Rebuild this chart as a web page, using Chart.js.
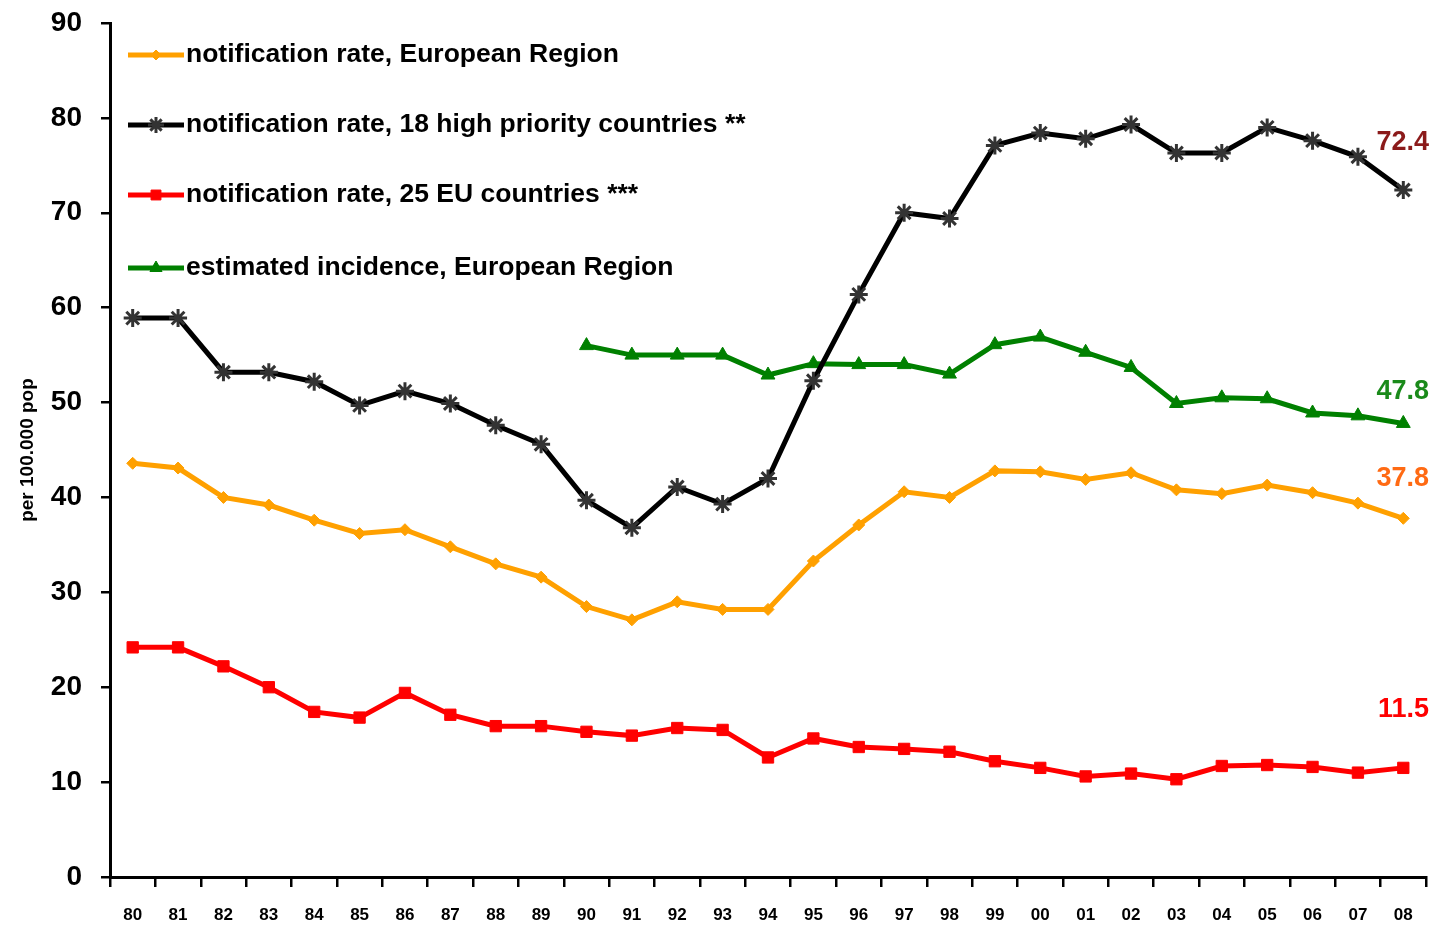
<!DOCTYPE html>
<html>
<head>
<meta charset="utf-8">
<script src="https://cdn.jsdelivr.net/npm/chart.js@4.4.1/dist/chart.umd.min.js"></script>
<style>
  html, body { margin: 0; padding: 0; background: #fff; }
  canvas { display: block; }
</style>
</head>
<body>
<canvas id="c" width="1430" height="926" style="width:1430px;height:926px"></canvas>
<script>
const years = ['80','81','82','83','84','85','86','87','88','89','90','91','92','93','94','95','96','97','98','99','00','01','02','03','04','05','06','07','08'];

const europeanRegion = [43.6,43.1,40.0,39.2,37.6,36.2,36.6,34.8,33.0,31.6,28.5,27.1,29.0,28.2,28.2,33.3,37.1,40.6,40.0,42.8,42.7,41.9,42.6,40.8,40.4,41.3,40.5,39.4,37.8];
const highPriority18 = [58.9,58.9,53.2,53.2,52.2,49.7,51.2,49.9,47.6,45.6,39.7,36.8,41.1,39.3,42.0,52.3,61.4,70.0,69.4,77.1,78.4,77.8,79.3,76.3,76.3,79.0,77.6,75.9,72.4];
const eu25 = [24.2,24.2,22.2,20.0,17.4,16.8,19.4,17.1,15.9,15.9,15.3,14.9,15.7,15.5,12.6,14.6,13.7,13.5,13.2,12.2,11.5,10.6,10.9,10.3,11.7,11.8,11.6,11.0,11.5];
const estimatedIncidence = [null,null,null,null,null,null,null,null,null,null,56.0,55.0,55.0,55.0,52.9,54.1,54.0,54.0,53.0,56.1,56.9,55.3,53.7,49.9,50.5,50.4,48.9,48.6,47.8];

const seriesNames = [
  'notification rate, European Region',
  'notification rate, 18 high priority countries **',
  'notification rate, 25 EU countries ***',
  'estimated incidence, European Region'
];
const yTicks = [0,10,20,30,40,50,60,70,80,90];

const FONT = '"Liberation Sans Narrow", "Arial Narrow", "Liberation Sans", sans-serif';

const legendPlugin = {
  id: 'insideLegend',
  afterDraw(chart, args, opts) {
    const ctx = chart.ctx;
    ctx.save();
    chart.data.datasets.forEach((ds, i) => {
      const y = opts.rows[i];
      const x0 = 128, x1 = 184;
      ctx.strokeStyle = ds.borderColor;
      ctx.lineWidth = 5;
      ctx.beginPath(); ctx.moveTo(x0, y); ctx.lineTo(x1, y); ctx.stroke();
      ctx.fillStyle = ds.pointBackgroundColor;
      ctx.strokeStyle = ds.pointBorderColor;
      ctx.lineWidth = ds.pointBorderWidth || 1;
      Chart.helpers.drawPoint(ctx, { pointStyle: ds.pointStyle, radius: ds.pointRadius - 1, borderWidth: ds.pointBorderWidth || 1 }, (x0 + x1) / 2, y);
      ctx.fillStyle = '#000';
      ctx.font = 'bold 26.5px ' + FONT;
      ctx.textBaseline = 'middle';
      ctx.textAlign = 'left';
      ctx.fillText(ds.label, 186, y);
    });
    ctx.restore();
  }
};

const endLabelPlugin = {
  id: 'endLabels',
  afterDatasetsDraw(chart, args, opts) {
    const ctx = chart.ctx;
    ctx.save();
    ctx.font = 'bold 27px ' + FONT;
    ctx.textAlign = 'right';
    ctx.textBaseline = 'middle';
    chart.data.datasets.forEach((ds, i) => {
      const meta = chart.getDatasetMeta(i);
      const last = meta.data[meta.data.length - 1];
      const v = ds.data[ds.data.length - 1];
      ctx.fillStyle = opts.colors[i];
      ctx.fillText(v.toFixed(1), 1429, last.y - opts.offsets[i]);
    });
    ctx.restore();
  }
};

new Chart(document.getElementById('c'), {
  type: 'line',
  data: {
    labels: years,
    datasets: [
      { label: seriesNames[0], data: europeanRegion, borderColor: '#FFA000', backgroundColor: '#FFA000',
        pointStyle: 'rectRot', pointRadius: 6, pointBackgroundColor: '#FFA000', pointBorderColor: '#FFA000', pointBorderWidth: 1, borderWidth: 5 },
      { label: seriesNames[1], data: highPriority18, borderColor: '#000000', backgroundColor: '#000000',
        pointStyle: 'star', pointRadius: 9, pointBackgroundColor: '#333', pointBorderColor: '#333', pointBorderWidth: 3, borderWidth: 5 },
      { label: seriesNames[2], data: eu25, borderColor: '#FF0000', backgroundColor: '#FF0000',
        pointStyle: 'rect', pointRadius: 8, pointBackgroundColor: '#FF0000', pointBorderColor: '#FF0000', pointBorderWidth: 1, borderWidth: 5 },
      { label: seriesNames[3], data: estimatedIncidence, borderColor: '#008000', backgroundColor: '#008000',
        pointStyle: 'triangle', pointRadius: 8, pointBackgroundColor: '#008000', pointBorderColor: '#008000', pointBorderWidth: 1, borderWidth: 5 }
    ]
  },
  options: {
    responsive: false,
    animation: false,
    devicePixelRatio: 1,
    layout: { autoPadding: false, padding: { top: 23, right: 4, left: 16, bottom: 0 } },
    plugins: {
      legend: { display: false },
      tooltip: { enabled: false },
      insideLegend: { rows: [55, 125, 195, 268] },
      endLabels: {
        colors: ['#FF6A13', '#8B1A1A', '#FF0000', '#1A8A1A'],
        offsets: [40, 47, 58, 32]
      }
    },
    scales: {
      x: {
        type: 'category',
        offset: true,
        grid: { offset: true, drawOnChartArea: false, color: '#000', tickLength: 10, lineWidth: 2.5 },
        border: { display: true, color: '#000', width: 3 },
        ticks: { color: '#000', font: { family: FONT, size: 17, weight: 'bold' }, padding: 18, maxRotation: 0, autoSkip: false },
        afterFit(s) { s.height = 49; s.paddingLeft = 0; s.paddingRight = 0; }
      },
      y: {
        min: 0, max: 90,
        afterBuildTicks(s) { s.ticks = yTicks.map(v => ({ value: v })); },
        grid: { drawOnChartArea: false, color: '#000', tickLength: 9, lineWidth: 2.5 },
        border: { display: true, color: '#000', width: 3 },
        ticks: { color: '#000', font: { family: FONT, size: 28, weight: 'bold' }, padding: 19 },
        title: { display: true, text: 'per 100.000 pop', color: '#000', font: { family: FONT, size: 19, weight: 'bold' }, padding: { top: 0, bottom: 4 } },
        afterFit(s) { s.width = 94; s.paddingTop = 0; s.paddingBottom = 0; }
      }
    }
  },
  plugins: [legendPlugin, endLabelPlugin]
});
</script>
</body>
</html>
